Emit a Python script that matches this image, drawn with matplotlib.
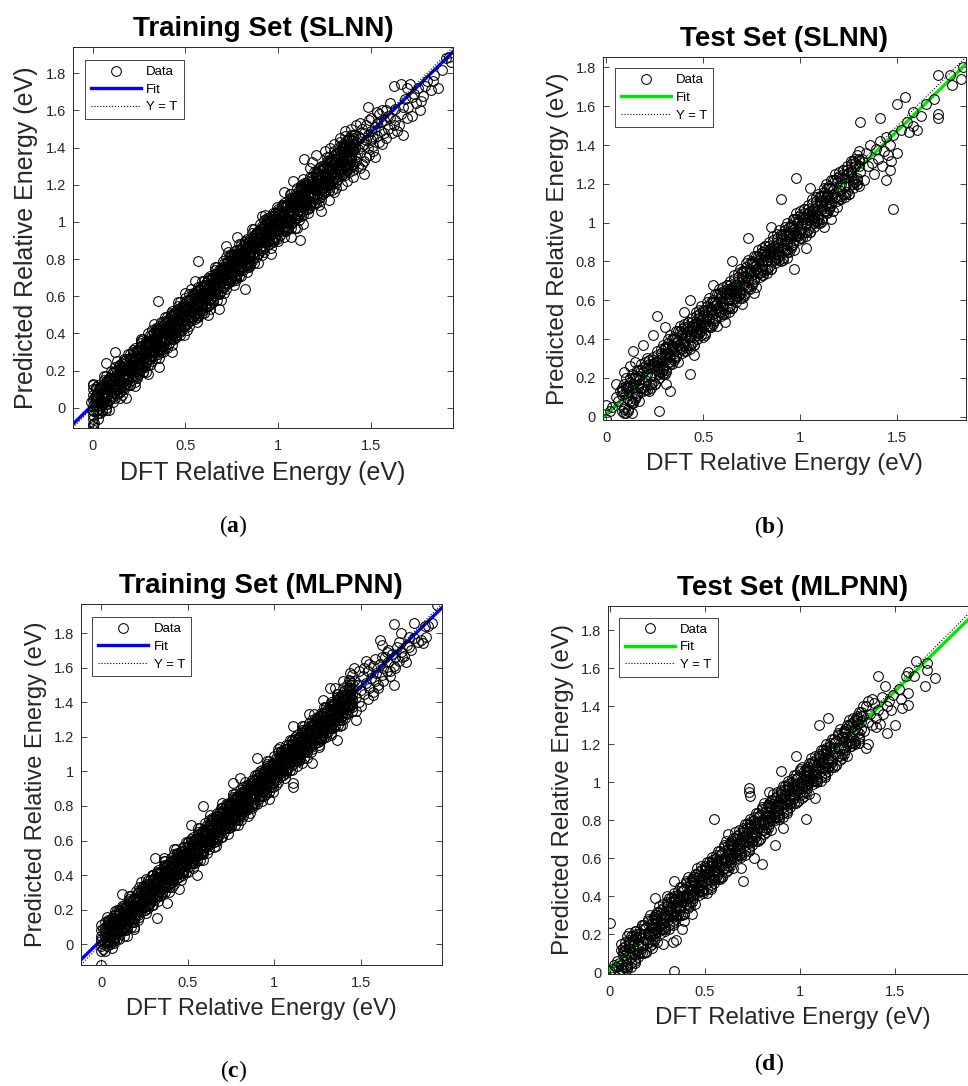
import matplotlib
matplotlib.use('Agg')
import matplotlib.pyplot as plt
import numpy as np

plt.rcParams['font.family'] = ['Liberation Sans', 'DejaVu Sans']
plt.rcParams['mathtext.fontset'] = 'custom'
plt.rcParams['mathtext.rm'] = 'Liberation Serif'
plt.rcParams['mathtext.bf'] = 'Liberation Serif:bold'

# ---------------- data ----------------
x_ticks = [0, 0.5, 1, 1.5]
x_tick_labels = ['0', '0.5', '1', '1.5']
y_ticks = [0, 0.2, 0.4, 0.6, 0.8, 1.0, 1.2, 1.4, 1.6, 1.8]
y_tick_labels = ['0', '0.2', '0.4', '0.6', '0.8', '1', '1.2', '1.4', '1.6', '1.8']

# (a) Training Set (SLNN): DFT value on x, several predicted values per x
a_x = [0.02, 0.03, 0.04, 0.05, 0.06, 0.07, 0.08, 0.09, 0.10, 0.11,
       0.12, 0.13, 0.14, 0.15, 0.16, 0.17, 0.18, 0.19, 0.20, 0.21,
       0.22, 0.23, 0.24, 0.25, 0.26, 0.27, 0.28, 0.29, 0.30, 0.31,
       0.32, 0.33, 0.34, 0.35, 0.36, 0.37, 0.38, 0.39, 0.40, 0.41,
       0.42, 0.43, 0.44, 0.45, 0.46, 0.47, 0.48, 0.49, 0.50, 0.51,
       0.52, 0.53, 0.54, 0.55, 0.56, 0.57, 0.58, 0.59, 0.60, 0.61,
       0.62, 0.63, 0.64, 0.65, 0.66, 0.67, 0.68, 0.69, 0.70, 0.71,
       0.72, 0.73, 0.74, 0.75, 0.76, 0.77, 0.78, 0.79, 0.80, 0.81,
       0.82, 0.83, 0.84, 0.85, 0.86, 0.87, 0.88, 0.89, 0.90, 0.91,
       0.92, 0.93, 0.94, 0.95, 0.96, 0.97, 0.98, 0.99, 1.00, 1.01,
       1.02, 1.03, 1.04, 1.05, 1.06, 1.07, 1.08, 1.09, 1.10, 1.11,
       1.12, 1.13, 1.14, 1.15, 1.16, 1.17, 1.18, 1.19, 1.20, 1.21,
       1.22, 1.23, 1.24, 1.25, 1.26, 1.27, 1.28, 1.29, 1.30, 1.31,
       1.32, 1.33, 1.34, 1.35, 1.36, 1.37, 1.38, 1.39, 1.40]
a_y1 = [0.07, 0.01, 0.11, 0.02, 0.08, 0.00, 0.14, 0.10, 0.06, 0.19,
        0.11, 0.17, 0.08, 0.20, 0.14, 0.25, 0.13, 0.22, 0.12, 0.24,
        0.19, 0.27, 0.16, 0.30, 0.21, 0.19, 0.33, 0.25, 0.23, 0.36,
        0.28, 0.40, 0.27, 0.31, 0.42, 0.33, 0.30, 0.46, 0.37, 0.35,
        0.49, 0.39, 0.45, 0.38, 0.52, 0.41, 0.47, 0.55, 0.44, 0.50,
        0.58, 0.47, 0.54, 0.61, 0.49, 0.56, 0.64, 0.52, 0.58, 0.66,
        0.55, 0.61, 0.69, 0.58, 0.64, 0.72, 0.61, 0.67, 0.76, 0.65,
        0.70, 0.79, 0.68, 0.74, 0.82, 0.71, 0.77, 0.85, 0.74, 0.80,
        0.88, 0.77, 0.84, 0.91, 0.79, 0.86, 0.94, 0.83, 0.89, 0.97,
        0.86, 0.92, 1.00, 0.88, 0.95, 1.03, 0.91, 0.98, 1.06, 0.93,
        1.00, 1.09, 0.96, 1.03, 1.12, 0.99, 1.06, 1.15, 1.02, 1.08,
        1.18, 1.04, 1.11, 1.21, 1.07, 1.14, 1.24, 1.10, 1.17, 1.27,
        1.13, 1.20, 1.30, 1.16, 1.23, 1.33, 1.19, 1.26, 1.36, 1.22,
        1.29, 1.38, 1.25, 1.32, 1.41, 1.28, 1.35, 1.44, 1.31]
a_y2 = [0.04, 0.06, 0.03, 0.08, 0.05, 0.10, 0.07, 0.12, 0.09, 0.13,
        0.15, 0.12, 0.17, 0.14, 0.19, 0.16, 0.21, 0.18, 0.23, 0.20,
        0.25, 0.22, 0.27, 0.24, 0.29, 0.26, 0.30, 0.28, 0.33, 0.30,
        0.35, 0.32, 0.37, 0.34, 0.39, 0.36, 0.41, 0.38, 0.43, 0.40,
        0.44, 0.45, 0.41, 0.47, 0.48, 0.45, 0.50, 0.47, 0.53, 0.52,
        0.54, 0.51, 0.56, 0.57, 0.53, 0.58, 0.60, 0.56, 0.62, 0.59,
        0.63, 0.65, 0.61, 0.67, 0.68, 0.64, 0.70, 0.71, 0.66, 0.72,
        0.74, 0.71, 0.76, 0.77, 0.73, 0.79, 0.80, 0.76, 0.82, 0.79,
        0.83, 0.85, 0.81, 0.87, 0.88, 0.84, 0.90, 0.91, 0.86, 0.92,
        0.94, 0.91, 0.96, 0.97, 0.93, 0.99, 1.00, 0.95, 1.01, 0.99,
        1.01, 1.04, 1.00, 1.06, 1.05, 1.03, 1.09, 1.07, 1.05, 1.11,
        1.12, 1.10, 1.15, 1.16, 1.12, 1.18, 1.19, 1.14, 1.20, 1.18,
        1.20, 1.23, 1.19, 1.25, 1.24, 1.22, 1.28, 1.26, 1.24, 1.30,
        1.31, 1.29, 1.34, 1.35, 1.31, 1.37, 1.38, 1.33, 1.39]
a_y3 = [0.06, -0.01, 0.11, 0.04, 0.11, 0.02, 0.10, 0.15, 0.07, 0.14,
        0.10, 0.20, 0.14, 0.20, 0.12, 0.20, 0.13, 0.23, 0.21, 0.20,
        0.26, 0.19, 0.31, 0.24, 0.31, 0.22, 0.30, 0.35, 0.27, 0.34,
        0.30, 0.40, 0.34, 0.40, 0.32, 0.40, 0.33, 0.43, 0.41, 0.40,
        0.46, 0.39, 0.51, 0.44, 0.51, 0.42, 0.50, 0.55, 0.46, 0.53,
        0.49, 0.59, 0.53, 0.59, 0.51, 0.59, 0.52, 0.62, 0.60, 0.59,
        0.65, 0.58, 0.70, 0.63, 0.70, 0.61, 0.69, 0.74, 0.66, 0.73,
        0.69, 0.79, 0.73, 0.79, 0.71, 0.79, 0.72, 0.82, 0.80, 0.79,
        0.85, 0.78, 0.90, 0.83, 0.90, 0.81, 0.89, 0.94, 0.86, 0.93,
        0.89, 0.99, 0.93, 0.99, 0.91, 0.99, 0.92, 1.02, 0.99, 0.98,
        1.04, 0.97, 1.09, 1.02, 1.09, 1.00, 1.08, 1.13, 1.05, 1.12,
        1.08, 1.18, 1.12, 1.18, 1.10, 1.18, 1.11, 1.21, 1.19, 1.18,
        1.24, 1.17, 1.29, 1.22, 1.29, 1.20, 1.28, 1.33, 1.25, 1.32,
        1.28, 1.38, 1.32, 1.38, 1.30, 1.38, 1.31, 1.41, 1.39]
a_y4 = [0.01, 0.08, 0.00, 0.07, 0.13, 0.05, 0.11, 0.04, 0.16, 0.11,
        0.16, 0.10, 0.22, 0.14, 0.17, 0.11, 0.23, 0.17, 0.26, 0.23,
        0.21, 0.28, 0.20, 0.27, 0.33, 0.25, 0.31, 0.24, 0.36, 0.31,
        0.36, 0.30, 0.42, 0.34, 0.37, 0.31, 0.43, 0.37, 0.46, 0.43,
        0.41, 0.48, 0.40, 0.47, 0.53, 0.45, 0.51, 0.44, 0.55, 0.50,
        0.55, 0.49, 0.61, 0.53, 0.56, 0.50, 0.62, 0.56, 0.65, 0.62,
        0.60, 0.67, 0.59, 0.66, 0.72, 0.64, 0.70, 0.63, 0.75, 0.70,
        0.75, 0.69, 0.81, 0.73, 0.76, 0.70, 0.82, 0.76, 0.85, 0.82,
        0.80, 0.87, 0.79, 0.86, 0.92, 0.84, 0.90, 0.83, 0.95, 0.90,
        0.95, 0.89, 1.01, 0.93, 0.96, 0.90, 1.02, 0.96, 1.04, 1.01,
        0.99, 1.06, 0.98, 1.05, 1.11, 1.03, 1.09, 1.02, 1.14, 1.09,
        1.14, 1.08, 1.20, 1.12, 1.15, 1.09, 1.21, 1.15, 1.24, 1.21,
        1.19, 1.26, 1.18, 1.25, 1.31, 1.23, 1.29, 1.22, 1.34, 1.29,
        1.34, 1.28, 1.40, 1.33, 1.35, 1.29, 1.41, 1.35, 1.44]
a_y5 = [0.03, 0.06, 0.04, 0.03, 0.08, 0.11, 0.07, 0.10, 0.13, 0.08,
        0.17, 0.13, 0.16, 0.14, 0.20, 0.18, 0.16, 0.22, 0.20, 0.23,
        0.23, 0.26, 0.24, 0.23, 0.28, 0.31, 0.27, 0.30, 0.33, 0.28,
        0.37, 0.33, 0.36, 0.34, 0.40, 0.38, 0.36, 0.42, 0.40, 0.43,
        0.43, 0.46, 0.44, 0.43, 0.48, 0.51, 0.47, 0.50, 0.52, 0.47,
        0.56, 0.52, 0.55, 0.53, 0.59, 0.57, 0.55, 0.61, 0.59, 0.62,
        0.62, 0.65, 0.63, 0.62, 0.67, 0.70, 0.66, 0.69, 0.72, 0.67,
        0.76, 0.72, 0.75, 0.73, 0.79, 0.77, 0.75, 0.81, 0.79, 0.82,
        0.82, 0.85, 0.83, 0.82, 0.87, 0.90, 0.86, 0.89, 0.92, 0.87,
        0.96, 0.92, 0.95, 0.93, 0.99, 0.97, 0.95, 1.01, 0.98, 1.01,
        1.01, 1.04, 1.02, 1.01, 1.06, 1.09, 1.05, 1.08, 1.11, 1.06,
        1.15, 1.11, 1.14, 1.12, 1.18, 1.16, 1.14, 1.20, 1.18, 1.21,
        1.21, 1.24, 1.22, 1.21, 1.26, 1.29, 1.25, 1.28, 1.31, 1.26,
        1.35, 1.31, 1.34, 1.32, 1.38, 1.36, 1.34, 1.40, 1.38]
a_y6 = [0.10, -0.03, 0.10, -0.02, 0.15, 0.03, 0.15, 0.04, 0.15, 0.03,
        0.22, 0.10, 0.21, 0.09, 0.24, 0.12, 0.24, 0.12, 0.29, 0.17,
        0.30, 0.17, 0.30, 0.18, 0.35, 0.23, 0.35, 0.24, 0.35, 0.23,
        0.42, 0.30, 0.41, 0.29, 0.44, 0.32, 0.44, 0.32, 0.49, 0.37,
        0.50, 0.37, 0.50, 0.38, 0.55, 0.43, 0.55, 0.44, 0.54, 0.42,
        0.61, 0.49, 0.60, 0.48, 0.63, 0.51, 0.63, 0.51, 0.68, 0.56,
        0.69, 0.56, 0.69, 0.57, 0.74, 0.62, 0.74, 0.63, 0.74, 0.62,
        0.81, 0.69, 0.80, 0.68, 0.83, 0.71, 0.83, 0.71, 0.88, 0.76,
        0.89, 0.76, 0.89, 0.77, 0.94, 0.82, 0.94, 0.83, 0.94, 0.82,
        1.01, 0.89, 1.00, 0.88, 1.03, 0.91, 1.03, 0.91, 1.07, 0.95,
        1.08, 0.95, 1.08, 0.96, 1.13, 1.01, 1.13, 1.02, 1.13, 1.01,
        1.20, 1.08, 1.19, 1.07, 1.22, 1.10, 1.22, 1.10, 1.27, 1.15,
        1.28, 1.15, 1.28, 1.16, 1.33, 1.21, 1.33, 1.22, 1.33, 1.21,
        1.40, 1.27, 1.39, 1.26, 1.42, 1.30, 1.42, 1.30, 1.47]
a_y7 = [0.11, -0.06, 0.11, -0.01, 0.17, -0.01, 0.14, -0.01, 0.20, 0.06,
        0.05, 0.25, 0.10, 0.23, 0.07, 0.26, 0.13, 0.29, 0.12, 0.28,
        0.31, 0.14, 0.31, 0.19, 0.37, 0.19, 0.34, 0.19, 0.40, 0.26,
        0.25, 0.45, 0.30, 0.43, 0.27, 0.46, 0.33, 0.49, 0.32, 0.48,
        0.51, 0.34, 0.51, 0.39, 0.57, 0.39, 0.54, 0.39, 0.59, 0.45,
        0.44, 0.64, 0.49, 0.62, 0.46, 0.65, 0.52, 0.68, 0.51, 0.67,
        0.70, 0.53, 0.70, 0.58, 0.76, 0.58, 0.73, 0.58, 0.79, 0.65,
        0.64, 0.84, 0.69, 0.82, 0.66, 0.85, 0.72, 0.88, 0.71, 0.87,
        0.90, 0.73, 0.90, 0.78, 0.96, 0.78, 0.93, 0.78, 0.99, 0.85,
        0.84, 1.04, 0.89, 1.02, 0.86, 1.05, 0.92, 1.08, 0.90, 1.06,
        1.09, 0.92, 1.09, 0.97, 1.15, 0.97, 1.12, 0.97, 1.18, 1.04,
        1.03, 1.23, 1.08, 1.21, 1.05, 1.24, 1.11, 1.27, 1.10, 1.26,
        1.29, 1.12, 1.29, 1.17, 1.35, 1.17, 1.32, 1.17, 1.38, 1.24,
        1.23, 1.43, 1.28, 1.41, 1.25, 1.44, 1.31, 1.47, 1.30]
a_y8 = [-0.02, 0.12, -0.03, 0.11, 0.03, 0.17, 0.02, 0.16, 0.06, 0.19,
        0.19, 0.08, 0.23, 0.11, 0.22, 0.10, 0.26, 0.16, 0.27, 0.15,
        0.18, 0.32, 0.17, 0.31, 0.23, 0.37, 0.22, 0.36, 0.26, 0.39,
        0.39, 0.28, 0.43, 0.31, 0.42, 0.30, 0.46, 0.36, 0.47, 0.35,
        0.38, 0.52, 0.37, 0.51, 0.43, 0.57, 0.42, 0.56, 0.45, 0.58,
        0.58, 0.47, 0.62, 0.50, 0.61, 0.49, 0.65, 0.55, 0.66, 0.54,
        0.57, 0.71, 0.56, 0.70, 0.62, 0.76, 0.61, 0.75, 0.65, 0.78,
        0.78, 0.67, 0.82, 0.70, 0.81, 0.69, 0.85, 0.75, 0.86, 0.74,
        0.77, 0.91, 0.76, 0.90, 0.82, 0.96, 0.81, 0.95, 0.85, 0.98,
        0.98, 0.87, 1.02, 0.90, 1.01, 0.89, 1.05, 0.95, 1.05, 0.93,
        0.96, 1.10, 0.95, 1.09, 1.01, 1.15, 1.00, 1.14, 1.04, 1.17,
        1.17, 1.06, 1.21, 1.09, 1.20, 1.08, 1.24, 1.14, 1.25, 1.13,
        1.16, 1.30, 1.15, 1.29, 1.21, 1.35, 1.20, 1.34, 1.24, 1.37,
        1.37, 1.26, 1.41, 1.29, 1.40, 1.28, 1.44, 1.34, 1.45]
a_extra = [(0.00, 0.13), (0.00, 0.12), (0.00, 0.10), (0.00, 0.07), (0.00, 0.04),
           (0.00, 0.01), (0.00, -0.02), (0.00, -0.04), (0.00, -0.06), (0.01, -0.08),
           (0.00, -0.10), (0.01, -0.12), (-0.01, 0.03), (0.00, -0.01), (0.01, 0.05),
           (0.00, -0.09),
           (1.41, 1.40), (1.42, 1.33), (1.43, 1.46), (1.44, 1.37), (1.45, 1.50),
           (1.46, 1.42), (1.47, 1.35), (1.48, 1.47), (1.49, 1.55), (1.50, 1.44),
           (1.51, 1.38), (1.52, 1.51), (1.53, 1.46), (1.54, 1.58), (1.55, 1.49),
           (1.56, 1.42), (1.57, 1.55), (1.58, 1.60), (1.59, 1.50), (1.60, 1.56),
           (1.62, 1.52), (1.63, 1.61), (1.64, 1.49), (1.66, 1.58), (1.67, 1.47),
           (1.68, 1.66), (1.70, 1.62), (1.71, 1.74), (1.72, 1.57), (1.73, 1.69),
           (1.74, 1.64), (1.75, 1.72), (1.76, 1.60), (1.78, 1.68), (1.80, 1.76),
           (1.82, 1.71), (1.84, 1.79), (1.86, 1.72), (1.88, 1.82), (1.90, 1.88),
           (1.92, 1.89), (1.93, 1.86), (1.62, 1.73), (1.66, 1.74), (1.69, 1.72),
           (1.40, 1.28), (1.44, 1.29), (1.48, 1.62), (1.38, 1.27), (1.35, 1.42),
           (1.28, 1.40), (1.30, 1.16), (1.17, 1.29), (1.15, 1.20), (1.46, 1.26),
           (1.52, 1.35), (1.36, 1.49), (1.42, 1.52), (1.38, 1.45), (1.45, 1.31),
           (1.41, 1.36), (1.42, 1.43), (1.43, 1.39), (1.44, 1.45), (1.45, 1.41),
           (1.46, 1.48), (1.47, 1.44), (1.48, 1.40), (1.50, 1.49), (1.51, 1.45),
           (1.53, 1.53), (1.55, 1.54), (1.57, 1.48), (1.59, 1.57),
           (1.30, 1.42), (1.31, 1.18), (1.33, 1.45), (1.34, 1.20), (1.36, 1.46),
           (1.37, 1.22), (1.39, 1.50), (1.40, 1.24), (1.41, 1.47), (1.43, 1.30),
           (1.44, 1.53), (1.46, 1.33), (1.47, 1.52), (1.49, 1.36), (1.50, 1.56),
           (1.51, 1.41), (1.53, 1.59), (1.54, 1.43), (1.56, 1.60), (1.58, 1.45),
           (1.60, 1.64), (1.61, 1.48), (1.63, 1.55), (1.65, 1.52), (1.67, 1.62),
           (1.69, 1.56), (1.72, 1.67), (1.77, 1.65), (1.79, 1.73), (1.83, 1.76),
           (1.25, 1.38), (1.22, 1.09), (1.27, 1.12), (1.18, 1.32), (1.13, 0.99),
           (1.08, 1.22),
           (0.35, 0.575), (0.57, 0.79), (0.82, 0.64), (1.115, 0.905), (1.14, 1.34),
           (0.12, 0.30), (0.07, 0.24), (0.18, 0.055), (0.23, 0.115), (0.43, 0.30),
           (0.36, 0.22), (0.68, 0.53), (0.72, 0.87), (1.23, 1.06), (1.03, 1.16),
           (0.26, 0.36), (0.50, 0.62), (0.62, 0.50), (0.91, 1.03), (0.96, 0.83),
           (1.07, 0.92), (0.15, 0.05), (0.30, 0.18), (0.55, 0.68), (0.78, 0.92),
           (1.20, 1.36), (1.10, 0.97)]
a_fit = (0.980, 0.015)

# (b) Test Set (SLNN)
b_x = [0.08, 0.09, 0.10, 0.11, 0.12, 0.13, 0.14, 0.15, 0.16, 0.17,
       0.18, 0.19, 0.20, 0.21, 0.22, 0.23, 0.24, 0.25, 0.26, 0.27,
       0.28, 0.29, 0.30, 0.31, 0.32, 0.33, 0.34, 0.35, 0.36, 0.37,
       0.38, 0.39, 0.40, 0.41, 0.42, 0.43, 0.44, 0.45, 0.46, 0.47,
       0.48, 0.49, 0.50, 0.51, 0.52, 0.53, 0.54, 0.55, 0.56, 0.57,
       0.58, 0.59, 0.60, 0.61, 0.62, 0.63, 0.64, 0.65, 0.66, 0.67,
       0.68, 0.69, 0.70, 0.71, 0.72, 0.73, 0.74, 0.75, 0.76, 0.77,
       0.78, 0.79, 0.80, 0.81, 0.82, 0.83, 0.84, 0.85, 0.86, 0.87,
       0.88, 0.89, 0.90, 0.91, 0.92, 0.93, 0.94, 0.95, 0.96, 0.97,
       0.98, 0.99, 1.00, 1.01, 1.02, 1.03, 1.04, 1.05, 1.06, 1.07,
       1.08, 1.09, 1.10, 1.11, 1.12, 1.13, 1.14, 1.15, 1.16, 1.17,
       1.18, 1.19, 1.20, 1.21, 1.22, 1.23, 1.24, 1.25, 1.26, 1.27,
       1.28, 1.29, 1.30]
b_y1 = [0.13, 0.05, 0.12, 0.04, 0.18, 0.12, 0.17, 0.10, 0.24, 0.17,
        0.15, 0.23, 0.14, 0.22, 0.29, 0.21, 0.27, 0.17, 0.28, 0.23,
        0.33, 0.25, 0.32, 0.24, 0.38, 0.32, 0.37, 0.30, 0.44, 0.37,
        0.35, 0.43, 0.34, 0.42, 0.49, 0.41, 0.47, 0.37, 0.48, 0.43,
        0.53, 0.45, 0.51, 0.43, 0.57, 0.51, 0.56, 0.49, 0.63, 0.56,
        0.54, 0.62, 0.53, 0.61, 0.68, 0.60, 0.66, 0.56, 0.67, 0.62,
        0.72, 0.64, 0.71, 0.63, 0.77, 0.71, 0.76, 0.69, 0.83, 0.76,
        0.74, 0.82, 0.73, 0.81, 0.88, 0.80, 0.86, 0.76, 0.87, 0.82,
        0.92, 0.84, 0.90, 0.82, 0.96, 0.90, 0.95, 0.88, 1.02, 0.95,
        0.93, 1.01, 0.92, 1.00, 1.07, 0.99, 1.05, 0.95, 1.06, 1.01,
        1.11, 1.03, 1.10, 1.02, 1.16, 1.10, 1.15, 1.08, 1.22, 1.15,
        1.13, 1.21, 1.12, 1.20, 1.27, 1.19, 1.25, 1.15, 1.26, 1.21,
        1.31, 1.23, 1.29]
b_y2 = [0.11, 0.04, 0.16, 0.09, 0.16, 0.07, 0.15, 0.20, 0.12, 0.19,
        0.15, 0.25, 0.19, 0.25, 0.17, 0.25, 0.18, 0.28, 0.26, 0.25,
        0.31, 0.24, 0.36, 0.29, 0.36, 0.27, 0.35, 0.40, 0.32, 0.39,
        0.35, 0.45, 0.39, 0.45, 0.37, 0.45, 0.38, 0.48, 0.46, 0.45,
        0.51, 0.44, 0.55, 0.48, 0.55, 0.46, 0.54, 0.59, 0.51, 0.58,
        0.54, 0.64, 0.58, 0.64, 0.56, 0.64, 0.57, 0.67, 0.65, 0.64,
        0.70, 0.63, 0.75, 0.68, 0.75, 0.66, 0.74, 0.79, 0.71, 0.78,
        0.74, 0.84, 0.78, 0.84, 0.76, 0.84, 0.77, 0.87, 0.85, 0.84,
        0.90, 0.83, 0.94, 0.87, 0.94, 0.85, 0.93, 0.98, 0.90, 0.97,
        0.93, 1.03, 0.97, 1.03, 0.95, 1.03, 0.96, 1.06, 1.04, 1.03,
        1.09, 1.02, 1.14, 1.07, 1.14, 1.05, 1.13, 1.18, 1.10, 1.17,
        1.13, 1.23, 1.17, 1.23, 1.15, 1.23, 1.16, 1.26, 1.24, 1.23,
        1.29, 1.22, 1.33]
b_y3 = [0.15, 0.02, 0.15, 0.03, 0.20, 0.08, 0.20, 0.09, 0.20, 0.08,
        0.27, 0.15, 0.26, 0.14, 0.29, 0.17, 0.29, 0.17, 0.34, 0.22,
        0.35, 0.22, 0.35, 0.23, 0.40, 0.28, 0.40, 0.29, 0.40, 0.28,
        0.47, 0.35, 0.46, 0.34, 0.49, 0.37, 0.49, 0.37, 0.54, 0.42,
        0.55, 0.42, 0.54, 0.42, 0.59, 0.47, 0.59, 0.48, 0.59, 0.47,
        0.66, 0.54, 0.65, 0.53, 0.68, 0.56, 0.68, 0.56, 0.73, 0.61,
        0.74, 0.61, 0.74, 0.62, 0.79, 0.67, 0.79, 0.68, 0.79, 0.67,
        0.86, 0.74, 0.85, 0.73, 0.88, 0.76, 0.88, 0.76, 0.93, 0.81,
        0.94, 0.81, 0.93, 0.81, 0.98, 0.86, 0.98, 0.87, 0.98, 0.86,
        1.05, 0.93, 1.04, 0.92, 1.07, 0.95, 1.07, 0.95, 1.12, 1.00,
        1.13, 1.00, 1.13, 1.01, 1.18, 1.06, 1.18, 1.07, 1.18, 1.06,
        1.25, 1.13, 1.24, 1.12, 1.27, 1.15, 1.27, 1.15, 1.32, 1.20,
        1.33, 1.20, 1.32]
b_y4 = [0.03, 0.17, 0.02, 0.16, 0.08, 0.22, 0.07, 0.21, 0.11, 0.24,
        0.24, 0.13, 0.28, 0.16, 0.27, 0.15, 0.31, 0.21, 0.32, 0.20,
        0.23, 0.37, 0.22, 0.36, 0.28, 0.42, 0.27, 0.41, 0.31, 0.44,
        0.44, 0.33, 0.48, 0.36, 0.47, 0.35, 0.51, 0.41, 0.52, 0.40,
        0.43, 0.57, 0.41, 0.55, 0.47, 0.61, 0.46, 0.60, 0.50, 0.63,
        0.63, 0.52, 0.67, 0.55, 0.66, 0.54, 0.70, 0.60, 0.71, 0.59,
        0.62, 0.76, 0.61, 0.75, 0.67, 0.81, 0.66, 0.80, 0.70, 0.83,
        0.83, 0.72, 0.87, 0.75, 0.86, 0.74, 0.90, 0.80, 0.91, 0.79,
        0.82, 0.96, 0.80, 0.94, 0.86, 1.00, 0.85, 0.99, 0.89, 1.02,
        1.02, 0.91, 1.06, 0.94, 1.05, 0.93, 1.09, 0.99, 1.10, 0.98,
        1.01, 1.15, 1.00, 1.14, 1.06, 1.20, 1.05, 1.19, 1.09, 1.22,
        1.22, 1.11, 1.26, 1.14, 1.25, 1.13, 1.29, 1.19, 1.30, 1.18,
        1.21, 1.35, 1.19]
b_tight_x = [0.25, 0.26, 0.27, 0.28, 0.29, 0.30, 0.31, 0.32, 0.33, 0.34,
             0.35, 0.36, 0.37, 0.38, 0.39, 0.40, 0.41, 0.42, 0.43, 0.44,
             0.45, 0.46, 0.47, 0.48, 0.49, 0.50, 0.51, 0.52, 0.53, 0.54,
             0.55, 0.56, 0.57, 0.58, 0.59, 0.60, 0.61, 0.62, 0.63, 0.64,
             0.65, 0.66, 0.67, 0.68, 0.69, 0.70, 0.71, 0.72, 0.73, 0.74,
             0.75, 0.76, 0.77, 0.78, 0.79, 0.80, 0.81, 0.82, 0.83, 0.84,
             0.85, 0.86, 0.87, 0.88, 0.89, 0.90, 0.91, 0.92, 0.93, 0.94,
             0.95, 0.96, 0.97, 0.98, 0.99, 1.00, 1.01, 1.02, 1.03, 1.04,
             1.05, 1.06, 1.07, 1.08, 1.09, 1.10, 1.11, 1.12, 1.13, 1.14,
             1.15]
b_tight_y = [0.26, 0.24, 0.29, 0.28, 0.26, 0.33, 0.30, 0.33, 0.31, 0.36,
             0.34, 0.38, 0.37, 0.36, 0.42, 0.37, 0.42, 0.44, 0.42, 0.44,
             0.46, 0.44, 0.49, 0.48, 0.46, 0.52, 0.49, 0.52, 0.50, 0.55,
             0.53, 0.57, 0.56, 0.55, 0.61, 0.56, 0.61, 0.63, 0.61, 0.63,
             0.65, 0.63, 0.68, 0.67, 0.65, 0.72, 0.69, 0.72, 0.70, 0.75,
             0.73, 0.77, 0.76, 0.75, 0.81, 0.76, 0.81, 0.83, 0.81, 0.83,
             0.85, 0.83, 0.88, 0.87, 0.85, 0.91, 0.88, 0.91, 0.89, 0.94,
             0.92, 0.96, 0.95, 0.94, 1.00, 0.95, 1.00, 1.02, 1.00, 1.02,
             1.04, 1.02, 1.07, 1.06, 1.04, 1.11, 1.08, 1.11, 1.09, 1.14,
             1.12]
b_extra = [(0.00, -0.01), (0.00, 0.06), (0.02, 0.03), (0.05, 0.17), (0.09, 0.23),
           (0.13, 0.02), (0.13, 0.07), (0.14, 0.34), (0.19, 0.37), (0.24, 0.42),
           (0.26, 0.52), (0.27, 0.03), (0.30, 0.46), (0.31, 0.17), (0.33, 0.13),
           (0.43, 0.22), (0.43, 0.60), (0.45, 0.32), (0.40, 0.54), (0.05, 0.10),
           (0.07, 0.13), (0.10, 0.20), (0.11, 0.15), (0.06, 0.08), (0.03, 0.05),
           (0.15, 0.28), (0.17, 0.21), (0.21, 0.30), (0.22, 0.13), (0.12, 0.26),
           (0.73, 0.92), (0.65, 0.80), (0.61, 0.49), (0.76, 0.64), (0.90, 1.12),
           (0.97, 0.76), (1.03, 0.87), (0.98, 1.23), (1.16, 1.02), (1.19, 1.08),
           (0.55, 0.68), (0.85, 0.98), (0.70, 0.58), (1.05, 1.18), (1.12, 0.98),
           (0.93, 0.82),
           (1.31, 1.52), (1.41, 1.54), (1.48, 1.07), (1.50, 1.61), (1.54, 1.65),
           (1.50, 1.36), (1.46, 1.27), (1.44, 1.22), (1.71, 1.76), (1.71, 1.56),
           (1.71, 1.54), (1.77, 1.76), (1.83, 1.74), (1.84, 1.80), (1.78, 1.71),
           (1.65, 1.61), (1.58, 1.57), (1.58, 1.50), (1.60, 1.48), (1.69, 1.64),
           (1.31, 1.26), (1.32, 1.33), (1.33, 1.22), (1.34, 1.36), (1.35, 1.29),
           (1.36, 1.40), (1.37, 1.31), (1.38, 1.25), (1.39, 1.38), (1.40, 1.33),
           (1.41, 1.42), (1.42, 1.29), (1.43, 1.37), (1.44, 1.44), (1.45, 1.35),
           (1.46, 1.40), (1.47, 1.32), (1.48, 1.45), (1.52, 1.48), (1.55, 1.52),
           (1.56, 1.47), (1.62, 1.55), (1.30, 1.37), (1.29, 1.20), (1.27, 1.32)]
b_fit = (0.974, 0.012)

# (c) Training Set (MLPNN)
c_x = [0.02, 0.03, 0.04, 0.05, 0.06, 0.07, 0.08, 0.09, 0.10, 0.11,
       0.12, 0.13, 0.14, 0.15, 0.16, 0.17, 0.18, 0.19, 0.20, 0.21,
       0.22, 0.23, 0.24, 0.25, 0.26, 0.27, 0.28, 0.29, 0.30, 0.31,
       0.32, 0.33, 0.34, 0.35, 0.36, 0.37, 0.38, 0.39, 0.40, 0.41,
       0.42, 0.43, 0.44, 0.45, 0.46, 0.47, 0.48, 0.49, 0.50, 0.51,
       0.52, 0.53, 0.54, 0.55, 0.56, 0.57, 0.58, 0.59, 0.60, 0.61,
       0.62, 0.63, 0.64, 0.65, 0.66, 0.67, 0.68, 0.69, 0.70, 0.71,
       0.72, 0.73, 0.74, 0.75, 0.76, 0.77, 0.78, 0.79, 0.80, 0.81,
       0.82, 0.83, 0.84, 0.85, 0.86, 0.87, 0.88, 0.89, 0.90, 0.91,
       0.92, 0.93, 0.94, 0.95, 0.96, 0.97, 0.98, 0.99, 1.00, 1.01,
       1.02, 1.03, 1.04, 1.05, 1.06, 1.07, 1.08, 1.09, 1.10, 1.11,
       1.12, 1.13, 1.14, 1.15, 1.16, 1.17, 1.18, 1.19, 1.20, 1.21,
       1.22, 1.23, 1.24, 1.25, 1.26, 1.27, 1.28, 1.29, 1.30, 1.31,
       1.32, 1.33, 1.34, 1.35, 1.36, 1.37, 1.38, 1.39, 1.40, 1.41,
       1.42, 1.43, 1.44, 1.45]
c_y1 = [0.01, 0.10, 0.07, 0.00, 0.11, 0.15, 0.06, 0.11, 0.20, 0.11,
        0.08, 0.19, 0.18, 0.12, 0.25, 0.18, 0.23, 0.13, 0.27, 0.20,
        0.21, 0.30, 0.27, 0.20, 0.31, 0.35, 0.26, 0.31, 0.40, 0.31,
        0.28, 0.39, 0.38, 0.32, 0.45, 0.38, 0.43, 0.33, 0.46, 0.39,
        0.40, 0.49, 0.46, 0.39, 0.50, 0.54, 0.45, 0.50, 0.59, 0.50,
        0.47, 0.58, 0.57, 0.51, 0.64, 0.57, 0.62, 0.52, 0.66, 0.59,
        0.60, 0.69, 0.66, 0.59, 0.70, 0.74, 0.65, 0.70, 0.79, 0.70,
        0.67, 0.78, 0.77, 0.71, 0.84, 0.77, 0.82, 0.72, 0.85, 0.78,
        0.79, 0.88, 0.85, 0.78, 0.89, 0.93, 0.84, 0.89, 0.98, 0.89,
        0.86, 0.97, 0.96, 0.90, 1.03, 0.96, 1.01, 0.91, 1.05, 0.98,
        0.99, 1.08, 1.05, 0.98, 1.09, 1.13, 1.04, 1.09, 1.18, 1.09,
        1.06, 1.17, 1.16, 1.10, 1.23, 1.16, 1.21, 1.11, 1.24, 1.17,
        1.18, 1.27, 1.24, 1.17, 1.28, 1.32, 1.23, 1.28, 1.37, 1.28,
        1.25, 1.36, 1.35, 1.29, 1.42, 1.35, 1.40, 1.30, 1.44, 1.37,
        1.38, 1.47, 1.44, 1.37]
c_y2 = [0.05, 0.03, 0.08, 0.07, 0.05, 0.12, 0.09, 0.12, 0.10, 0.15,
        0.15, 0.13, 0.18, 0.17, 0.15, 0.22, 0.19, 0.22, 0.20, 0.25,
        0.25, 0.23, 0.28, 0.27, 0.25, 0.32, 0.29, 0.32, 0.30, 0.35,
        0.35, 0.33, 0.38, 0.37, 0.35, 0.42, 0.39, 0.42, 0.39, 0.44,
        0.44, 0.42, 0.47, 0.46, 0.44, 0.51, 0.48, 0.51, 0.49, 0.54,
        0.53, 0.51, 0.58, 0.55, 0.58, 0.56, 0.61, 0.61, 0.59, 0.64,
        0.66, 0.63, 0.66, 0.64, 0.69, 0.69, 0.67, 0.72, 0.71, 0.69,
        0.74, 0.72, 0.77, 0.76, 0.74, 0.81, 0.78, 0.81, 0.78, 0.83,
        0.82, 0.80, 0.87, 0.84, 0.87, 0.85, 0.90, 0.90, 0.88, 0.93,
        0.95, 0.92, 0.95, 0.93, 0.98, 0.98, 0.96, 1.01, 1.00, 0.98,
        1.03, 1.01, 1.06, 1.05, 1.03, 1.10, 1.07, 1.10, 1.08, 1.13,
        1.12, 1.10, 1.17, 1.14, 1.17, 1.15, 1.20, 1.20, 1.17, 1.22,
        1.24, 1.21, 1.24, 1.22, 1.27, 1.27, 1.25, 1.30, 1.29, 1.27,
        1.32, 1.30, 1.35, 1.34, 1.32, 1.39, 1.36, 1.39, 1.37, 1.42,
        1.42, 1.39, 1.45, 1.44]
c_y3 = [0.01, 0.11, 0.05, 0.11, 0.03, 0.11, 0.04, 0.14, 0.12, 0.11,
        0.17, 0.10, 0.22, 0.15, 0.22, 0.13, 0.21, 0.26, 0.18, 0.25,
        0.21, 0.31, 0.25, 0.31, 0.23, 0.31, 0.24, 0.34, 0.32, 0.31,
        0.37, 0.30, 0.42, 0.35, 0.42, 0.33, 0.41, 0.46, 0.37, 0.44,
        0.40, 0.50, 0.44, 0.50, 0.42, 0.50, 0.43, 0.53, 0.51, 0.50,
        0.56, 0.49, 0.61, 0.54, 0.61, 0.52, 0.60, 0.65, 0.57, 0.64,
        0.60, 0.70, 0.64, 0.70, 0.62, 0.70, 0.63, 0.73, 0.71, 0.70,
        0.76, 0.69, 0.81, 0.74, 0.81, 0.72, 0.80, 0.85, 0.76, 0.83,
        0.79, 0.89, 0.83, 0.89, 0.81, 0.89, 0.82, 0.92, 0.90, 0.89,
        0.95, 0.88, 1.00, 0.93, 1.00, 0.91, 0.99, 1.04, 0.96, 1.03,
        0.99, 1.09, 1.03, 1.09, 1.01, 1.09, 1.02, 1.12, 1.10, 1.09,
        1.15, 1.08, 1.20, 1.13, 1.20, 1.11, 1.19, 1.24, 1.15, 1.22,
        1.18, 1.28, 1.22, 1.28, 1.20, 1.28, 1.21, 1.31, 1.29, 1.28,
        1.34, 1.27, 1.39, 1.32, 1.39, 1.30, 1.38, 1.43, 1.35, 1.42,
        1.38, 1.48, 1.42, 1.48]
c_y4 = [0.07, 0.01, 0.13, 0.05, 0.08, 0.02, 0.14, 0.08, 0.17, 0.14,
        0.12, 0.19, 0.11, 0.18, 0.24, 0.16, 0.22, 0.15, 0.27, 0.22,
        0.27, 0.21, 0.33, 0.25, 0.28, 0.22, 0.34, 0.28, 0.37, 0.34,
        0.32, 0.39, 0.31, 0.38, 0.44, 0.36, 0.42, 0.35, 0.46, 0.41,
        0.46, 0.40, 0.52, 0.44, 0.47, 0.41, 0.53, 0.47, 0.56, 0.53,
        0.51, 0.58, 0.50, 0.57, 0.63, 0.55, 0.61, 0.54, 0.66, 0.61,
        0.66, 0.60, 0.72, 0.64, 0.67, 0.61, 0.73, 0.67, 0.76, 0.73,
        0.71, 0.78, 0.70, 0.77, 0.83, 0.75, 0.81, 0.74, 0.85, 0.80,
        0.85, 0.79, 0.91, 0.83, 0.86, 0.80, 0.92, 0.86, 0.95, 0.92,
        0.90, 0.97, 0.89, 0.96, 1.02, 0.94, 1.00, 0.93, 1.05, 1.00,
        1.05, 0.99, 1.11, 1.03, 1.06, 1.00, 1.12, 1.06, 1.15, 1.12,
        1.10, 1.17, 1.09, 1.16, 1.22, 1.14, 1.20, 1.13, 1.24, 1.19,
        1.24, 1.18, 1.30, 1.22, 1.25, 1.19, 1.31, 1.25, 1.34, 1.31,
        1.29, 1.36, 1.28, 1.35, 1.41, 1.33, 1.39, 1.32, 1.44, 1.39,
        1.44, 1.38, 1.50, 1.42]
c_y5 = [0.08, 0.04, 0.07, 0.05, 0.11, 0.09, 0.07, 0.13, 0.11, 0.14,
        0.14, 0.17, 0.15, 0.14, 0.19, 0.22, 0.18, 0.21, 0.24, 0.19,
        0.28, 0.24, 0.27, 0.25, 0.31, 0.29, 0.27, 0.33, 0.31, 0.34,
        0.34, 0.37, 0.35, 0.34, 0.39, 0.42, 0.38, 0.41, 0.43, 0.38,
        0.47, 0.43, 0.46, 0.44, 0.50, 0.48, 0.46, 0.52, 0.50, 0.53,
        0.53, 0.56, 0.54, 0.53, 0.58, 0.61, 0.57, 0.60, 0.63, 0.58,
        0.67, 0.63, 0.66, 0.64, 0.70, 0.68, 0.66, 0.72, 0.70, 0.73,
        0.73, 0.76, 0.74, 0.73, 0.78, 0.81, 0.77, 0.80, 0.82, 0.77,
        0.86, 0.82, 0.85, 0.83, 0.89, 0.87, 0.85, 0.91, 0.89, 0.92,
        0.92, 0.95, 0.93, 0.92, 0.97, 1.00, 0.96, 0.99, 1.02, 0.97,
        1.06, 1.02, 1.05, 1.03, 1.09, 1.07, 1.05, 1.11, 1.09, 1.12,
        1.12, 1.15, 1.13, 1.12, 1.17, 1.20, 1.16, 1.19, 1.21, 1.16,
        1.25, 1.21, 1.24, 1.22, 1.28, 1.26, 1.24, 1.30, 1.28, 1.31,
        1.31, 1.34, 1.32, 1.31, 1.36, 1.39, 1.35, 1.38, 1.41, 1.36,
        1.45, 1.41, 1.44, 1.41]
c_y6 = [0.13, 0.01, 0.12, 0.00, 0.15, 0.03, 0.15, 0.03, 0.20, 0.08,
        0.21, 0.08, 0.21, 0.09, 0.26, 0.14, 0.26, 0.15, 0.26, 0.14,
        0.33, 0.21, 0.32, 0.20, 0.35, 0.23, 0.35, 0.23, 0.40, 0.28,
        0.41, 0.28, 0.41, 0.29, 0.46, 0.34, 0.46, 0.35, 0.45, 0.33,
        0.52, 0.40, 0.51, 0.39, 0.54, 0.42, 0.54, 0.42, 0.59, 0.47,
        0.60, 0.47, 0.60, 0.48, 0.65, 0.53, 0.65, 0.54, 0.65, 0.53,
        0.72, 0.60, 0.71, 0.59, 0.74, 0.62, 0.74, 0.62, 0.79, 0.67,
        0.80, 0.67, 0.80, 0.68, 0.85, 0.73, 0.85, 0.74, 0.84, 0.72,
        0.91, 0.79, 0.90, 0.78, 0.93, 0.81, 0.93, 0.81, 0.98, 0.86,
        0.99, 0.86, 0.99, 0.87, 1.04, 0.92, 1.04, 0.93, 1.04, 0.92,
        1.11, 0.99, 1.10, 0.98, 1.13, 1.01, 1.13, 1.01, 1.18, 1.06,
        1.19, 1.06, 1.19, 1.07, 1.24, 1.12, 1.24, 1.13, 1.23, 1.11,
        1.30, 1.18, 1.29, 1.17, 1.32, 1.20, 1.32, 1.20, 1.37, 1.25,
        1.38, 1.25, 1.38, 1.26, 1.43, 1.31, 1.43, 1.32, 1.44, 1.31,
        1.50, 1.38, 1.48, 1.35]
c_y7 = [-0.04, 0.16, 0.01, 0.14, -0.02, 0.17, 0.04, 0.20, 0.03, 0.19,
        0.22, 0.05, 0.22, 0.10, 0.28, 0.10, 0.25, 0.10, 0.31, 0.17,
        0.16, 0.36, 0.21, 0.34, 0.18, 0.37, 0.24, 0.40, 0.23, 0.39,
        0.42, 0.25, 0.42, 0.30, 0.48, 0.30, 0.45, 0.30, 0.50, 0.36,
        0.35, 0.55, 0.40, 0.53, 0.37, 0.56, 0.43, 0.59, 0.42, 0.58,
        0.61, 0.44, 0.61, 0.49, 0.67, 0.49, 0.64, 0.49, 0.70, 0.56,
        0.55, 0.75, 0.60, 0.73, 0.57, 0.76, 0.63, 0.79, 0.62, 0.78,
        0.81, 0.64, 0.81, 0.69, 0.87, 0.69, 0.84, 0.69, 0.89, 0.75,
        0.74, 0.94, 0.79, 0.92, 0.76, 0.95, 0.82, 0.98, 0.81, 0.97,
        1.00, 0.83, 1.00, 0.88, 1.06, 0.88, 1.03, 0.88, 1.09, 0.95,
        0.94, 1.14, 0.99, 1.12, 0.96, 1.15, 1.02, 1.18, 1.01, 1.17,
        1.20, 1.03, 1.20, 1.08, 1.26, 1.08, 1.23, 1.08, 1.28, 1.14,
        1.13, 1.33, 1.18, 1.31, 1.15, 1.34, 1.21, 1.37, 1.20, 1.36,
        1.39, 1.22, 1.39, 1.27, 1.45, 1.27, 1.42, 1.27, 1.48, 1.34,
        1.33, 1.53, 1.38, 1.51]
c_y8 = [0.10, -0.01, 0.14, 0.02, 0.13, 0.01, 0.17, 0.07, 0.18, 0.06,
        0.09, 0.23, 0.08, 0.22, 0.14, 0.28, 0.13, 0.27, 0.17, 0.30,
        0.30, 0.19, 0.34, 0.22, 0.33, 0.21, 0.37, 0.27, 0.38, 0.26,
        0.29, 0.43, 0.28, 0.42, 0.34, 0.48, 0.33, 0.47, 0.36, 0.49,
        0.49, 0.38, 0.53, 0.41, 0.52, 0.40, 0.56, 0.46, 0.57, 0.45,
        0.48, 0.62, 0.47, 0.61, 0.53, 0.67, 0.52, 0.66, 0.56, 0.69,
        0.69, 0.58, 0.73, 0.61, 0.72, 0.60, 0.76, 0.66, 0.77, 0.65,
        0.68, 0.82, 0.67, 0.81, 0.73, 0.87, 0.72, 0.86, 0.75, 0.88,
        0.88, 0.77, 0.92, 0.80, 0.91, 0.79, 0.95, 0.85, 0.96, 0.84,
        0.87, 1.01, 0.86, 1.00, 0.92, 1.06, 0.91, 1.05, 0.95, 1.08,
        1.08, 0.97, 1.12, 1.00, 1.11, 0.99, 1.15, 1.05, 1.16, 1.04,
        1.07, 1.21, 1.06, 1.20, 1.12, 1.26, 1.11, 1.25, 1.14, 1.27,
        1.27, 1.16, 1.31, 1.19, 1.30, 1.18, 1.34, 1.24, 1.35, 1.23,
        1.26, 1.40, 1.25, 1.39, 1.31, 1.45, 1.30, 1.44, 1.34, 1.47,
        1.47, 1.36, 1.52, 1.39]
c_extra = [(0.00, 0.11), (0.00, 0.08), (0.00, 0.05), (0.00, 0.02), (0.00, -0.01),
           (0.01, -0.03), (0.01, 0.09), (0.00, -0.04), (0.01, 0.00), (0.00, -0.12),
           (0.00, 0.03),
           (1.46, 1.52), (1.47, 1.43), (1.48, 1.50), (1.49, 1.40), (1.50, 1.47),
           (1.51, 1.55), (1.52, 1.45), (1.53, 1.51), (1.54, 1.58), (1.55, 1.48),
           (1.56, 1.54), (1.57, 1.61), (1.58, 1.52), (1.59, 1.57), (1.60, 1.50),
           (1.61, 1.62), (1.62, 1.56), (1.63, 1.60), (1.64, 1.66), (1.65, 1.58),
           (1.66, 1.63), (1.67, 1.55), (1.68, 1.68), (1.69, 1.61), (1.70, 1.66),
           (1.71, 1.72), (1.72, 1.64), (1.73, 1.69), (1.75, 1.67), (1.76, 1.63),
           (1.77, 1.73), (1.79, 1.70), (1.81, 1.77), (1.83, 1.75), (1.85, 1.76),
           (1.86, 1.74), (1.87, 1.84), (1.89, 1.84), (1.91, 1.86), (1.94, 1.96),
           (1.81, 1.86), (1.65, 1.69), (1.62, 1.73), (1.61, 1.76), (1.69, 1.85),
           (1.69, 1.50), (1.46, 1.60), (1.53, 1.64), (1.47, 1.30), (1.36, 1.18),
           (1.32, 1.48), (1.42, 1.34), (1.44, 1.57), (1.57, 1.44), (1.73, 1.80),
           (1.78, 1.78), (1.88, 1.78),
           (1.45, 1.56), (1.47, 1.35), (1.49, 1.58), (1.50, 1.38), (1.52, 1.60),
           (1.54, 1.42), (1.55, 1.62), (1.57, 1.46), (1.58, 1.65), (1.60, 1.48),
           (1.62, 1.66), (1.63, 1.52), (1.66, 1.70), (1.67, 1.58), (1.70, 1.60),
           (1.72, 1.75), (1.74, 1.66), (1.78, 1.72), (1.40, 1.52), (1.38, 1.26),
           (1.35, 1.48), (1.33, 1.21), (1.28, 1.41), (1.26, 1.14), (1.20, 1.33),
           (1.16, 1.05),
           (0.12, 0.29), (0.19, 0.09), (0.31, 0.50), (0.36, 0.50), (0.32, 0.15),
           (0.38, 0.24), (0.45, 0.32), (0.55, 0.40), (0.59, 0.80), (0.52, 0.69),
           (0.76, 0.93), (0.80, 0.96), (0.90, 1.08), (0.97, 0.84), (1.11, 0.93),
           (1.11, 0.91), (1.22, 1.05), (1.11, 1.26), (0.26, 0.38), (0.65, 0.56),
           (0.70, 0.82), (1.02, 1.13), (1.30, 1.22), (0.08, 0.19), (0.15, 0.05),
           (0.42, 0.55), (0.85, 0.74)]
c_fit = (0.975, 0.026)

# (d) Test Set (MLPNN)
d_x = [0.06, 0.07, 0.08, 0.09, 0.10, 0.11, 0.12, 0.13, 0.14, 0.15,
       0.16, 0.17, 0.18, 0.19, 0.20, 0.21, 0.22, 0.23, 0.24, 0.25,
       0.26, 0.27, 0.28, 0.29, 0.30, 0.31, 0.32, 0.33, 0.34, 0.35,
       0.36, 0.37, 0.38, 0.39, 0.40, 0.41, 0.42, 0.43, 0.44, 0.45,
       0.46, 0.47, 0.48, 0.49, 0.50, 0.51, 0.52, 0.53, 0.54, 0.55,
       0.56, 0.57, 0.58, 0.59, 0.60, 0.61, 0.62, 0.63, 0.64, 0.65,
       0.66, 0.67, 0.68, 0.69, 0.70, 0.71, 0.72, 0.73, 0.74, 0.75,
       0.76, 0.77, 0.78, 0.79, 0.80, 0.81, 0.82, 0.83, 0.84, 0.85,
       0.86, 0.87, 0.88, 0.89, 0.90, 0.91, 0.92, 0.93, 0.94, 0.95,
       0.96, 0.97, 0.98, 0.99, 1.00, 1.01, 1.02, 1.03, 1.04, 1.05,
       1.06, 1.07, 1.08, 1.09, 1.10, 1.11, 1.12, 1.13, 1.14, 1.15,
       1.16, 1.17, 1.18, 1.19, 1.20, 1.21, 1.22, 1.23, 1.24, 1.25,
       1.26, 1.27, 1.28, 1.29, 1.30, 1.31, 1.32]
d_y1 = [0.02, 0.13, 0.09, 0.03, 0.13, 0.19, 0.10, 0.06, 0.18, 0.15,
        0.21, 0.14, 0.20, 0.11, 0.27, 0.20, 0.17, 0.26, 0.30, 0.23,
        0.22, 0.33, 0.29, 0.23, 0.33, 0.39, 0.30, 0.26, 0.38, 0.35,
        0.41, 0.34, 0.40, 0.31, 0.47, 0.40, 0.37, 0.46, 0.50, 0.43,
        0.42, 0.53, 0.49, 0.43, 0.52, 0.58, 0.49, 0.45, 0.57, 0.54,
        0.60, 0.53, 0.59, 0.50, 0.66, 0.59, 0.56, 0.65, 0.69, 0.62,
        0.61, 0.72, 0.68, 0.62, 0.72, 0.78, 0.69, 0.65, 0.77, 0.74,
        0.80, 0.73, 0.79, 0.70, 0.86, 0.79, 0.76, 0.85, 0.89, 0.82,
        0.81, 0.92, 0.88, 0.82, 0.92, 0.98, 0.89, 0.85, 0.97, 0.94,
        1.00, 0.93, 0.99, 0.90, 1.06, 0.98, 0.95, 1.04, 1.08, 1.01,
        1.00, 1.11, 1.07, 1.01, 1.11, 1.17, 1.08, 1.04, 1.16, 1.13,
        1.19, 1.12, 1.18, 1.09, 1.25, 1.18, 1.15, 1.24, 1.28, 1.21,
        1.20, 1.31, 1.27, 1.21, 1.31, 1.37, 1.28]
d_y2 = [0.04, 0.11, 0.03, 0.10, 0.16, 0.08, 0.14, 0.07, 0.19, 0.14,
        0.19, 0.13, 0.25, 0.17, 0.20, 0.14, 0.26, 0.20, 0.29, 0.26,
        0.24, 0.31, 0.23, 0.30, 0.36, 0.28, 0.34, 0.27, 0.39, 0.34,
        0.39, 0.33, 0.45, 0.37, 0.40, 0.34, 0.46, 0.40, 0.49, 0.46,
        0.44, 0.51, 0.43, 0.50, 0.55, 0.47, 0.53, 0.46, 0.58, 0.53,
        0.58, 0.52, 0.64, 0.56, 0.59, 0.53, 0.65, 0.59, 0.68, 0.65,
        0.63, 0.70, 0.62, 0.69, 0.75, 0.67, 0.73, 0.66, 0.78, 0.73,
        0.78, 0.72, 0.84, 0.76, 0.79, 0.73, 0.85, 0.79, 0.88, 0.85,
        0.83, 0.90, 0.82, 0.89, 0.95, 0.87, 0.93, 0.86, 0.98, 0.93,
        0.98, 0.92, 1.04, 0.96, 0.99, 0.92, 1.04, 0.98, 1.07, 1.04,
        1.02, 1.09, 1.01, 1.08, 1.14, 1.06, 1.12, 1.05, 1.17, 1.12,
        1.17, 1.11, 1.23, 1.15, 1.18, 1.12, 1.24, 1.18, 1.27, 1.24,
        1.22, 1.29, 1.21, 1.28, 1.34, 1.26, 1.32]
d_y3 = [0.15, 0.03, 0.14, 0.02, 0.17, 0.05, 0.17, 0.05, 0.22, 0.10,
        0.23, 0.10, 0.23, 0.11, 0.28, 0.16, 0.28, 0.17, 0.28, 0.16,
        0.35, 0.23, 0.34, 0.22, 0.37, 0.25, 0.37, 0.25, 0.42, 0.30,
        0.43, 0.30, 0.43, 0.31, 0.48, 0.36, 0.48, 0.37, 0.48, 0.36,
        0.55, 0.43, 0.54, 0.42, 0.56, 0.44, 0.56, 0.44, 0.61, 0.49,
        0.62, 0.49, 0.62, 0.50, 0.67, 0.55, 0.67, 0.56, 0.67, 0.55,
        0.74, 0.62, 0.73, 0.61, 0.76, 0.64, 0.76, 0.64, 0.81, 0.69,
        0.82, 0.69, 0.82, 0.70, 0.87, 0.75, 0.87, 0.76, 0.87, 0.75,
        0.94, 0.82, 0.93, 0.81, 0.96, 0.84, 0.96, 0.84, 1.01, 0.89,
        1.02, 0.89, 1.02, 0.90, 1.07, 0.94, 1.06, 0.95, 1.06, 0.94,
        1.13, 1.01, 1.12, 1.00, 1.15, 1.03, 1.15, 1.03, 1.20, 1.08,
        1.21, 1.08, 1.21, 1.09, 1.26, 1.14, 1.26, 1.15, 1.26, 1.14,
        1.33, 1.21, 1.32, 1.20, 1.35, 1.23, 1.35]
d_y4 = [0.12, 0.01, 0.16, 0.04, 0.15, 0.03, 0.19, 0.09, 0.20, 0.08,
        0.11, 0.25, 0.10, 0.24, 0.16, 0.30, 0.15, 0.29, 0.19, 0.32,
        0.32, 0.21, 0.36, 0.24, 0.35, 0.23, 0.39, 0.29, 0.40, 0.28,
        0.31, 0.45, 0.30, 0.44, 0.36, 0.50, 0.35, 0.49, 0.39, 0.52,
        0.52, 0.41, 0.56, 0.44, 0.54, 0.42, 0.58, 0.48, 0.59, 0.47,
        0.50, 0.64, 0.49, 0.63, 0.55, 0.69, 0.54, 0.68, 0.58, 0.71,
        0.71, 0.60, 0.75, 0.63, 0.74, 0.62, 0.78, 0.68, 0.79, 0.67,
        0.70, 0.84, 0.69, 0.83, 0.75, 0.89, 0.74, 0.88, 0.78, 0.91,
        0.91, 0.80, 0.95, 0.83, 0.94, 0.82, 0.98, 0.88, 0.99, 0.87,
        0.90, 1.04, 0.89, 1.03, 0.95, 1.08, 0.93, 1.07, 0.97, 1.10,
        1.10, 0.99, 1.14, 1.02, 1.13, 1.01, 1.17, 1.07, 1.18, 1.06,
        1.09, 1.23, 1.08, 1.22, 1.14, 1.28, 1.13, 1.27, 1.17, 1.30,
        1.30, 1.19, 1.34, 1.22, 1.33, 1.21, 1.37]
d_tight_x = [0.20, 0.21, 0.22, 0.23, 0.24, 0.25, 0.26, 0.27, 0.28, 0.29,
             0.30, 0.31, 0.32, 0.33, 0.34, 0.35, 0.36, 0.37, 0.38, 0.39,
             0.40, 0.41, 0.42, 0.43, 0.44, 0.45, 0.46, 0.47, 0.48, 0.49,
             0.50, 0.51, 0.52, 0.53, 0.54, 0.55, 0.56, 0.57, 0.58, 0.59,
             0.60, 0.61, 0.62, 0.63, 0.64, 0.65, 0.66, 0.67, 0.68, 0.69,
             0.70, 0.71, 0.72, 0.73, 0.74, 0.75, 0.76, 0.77, 0.78, 0.79,
             0.80, 0.81, 0.82, 0.83, 0.84, 0.85, 0.86, 0.87, 0.88, 0.89,
             0.90, 0.91, 0.92, 0.93, 0.94, 0.95, 0.96, 0.97, 0.98, 0.99,
             1.00, 1.01, 1.02, 1.03, 1.04, 1.05, 1.06, 1.07, 1.08, 1.09,
             1.10, 1.11, 1.12, 1.13, 1.14, 1.15]
d_tight_y = [0.21, 0.19, 0.24, 0.23, 0.21, 0.28, 0.25, 0.28, 0.26, 0.31,
             0.29, 0.33, 0.32, 0.31, 0.37, 0.32, 0.37, 0.39, 0.37, 0.39,
             0.41, 0.39, 0.44, 0.43, 0.41, 0.48, 0.45, 0.48, 0.46, 0.51,
             0.48, 0.52, 0.51, 0.50, 0.56, 0.51, 0.56, 0.58, 0.56, 0.58,
             0.60, 0.58, 0.63, 0.62, 0.60, 0.67, 0.64, 0.67, 0.65, 0.70,
             0.68, 0.72, 0.71, 0.70, 0.76, 0.71, 0.76, 0.78, 0.76, 0.78,
             0.80, 0.78, 0.83, 0.82, 0.80, 0.87, 0.84, 0.87, 0.85, 0.90,
             0.88, 0.92, 0.91, 0.90, 0.96, 0.91, 0.96, 0.98, 0.96, 0.98,
             1.00, 0.97, 1.02, 1.01, 0.99, 1.06, 1.03, 1.06, 1.04, 1.09,
             1.07, 1.11, 1.10, 1.09, 1.15, 1.10]
d_extra = [(0.00, 0.26), (0.00, 0.01), (0.05, -0.01), (0.34, 0.01), (0.09, 0.19),
           (0.15, 0.12), (0.22, 0.13), (0.28, 0.15), (0.33, 0.16), (0.35, 0.17),
           (0.24, 0.39), (0.34, 0.48), (0.43, 0.31), (0.38, 0.23), (0.01, 0.02),
           (0.02, 0.04), (0.03, 0.03), (0.04, 0.06), (0.05, 0.05), (0.10, 0.21),
           (0.12, 0.16), (0.11, 0.08), (0.13, 0.22), (0.17, 0.25), (0.19, 0.17),
           (0.07, 0.09), (0.08, 0.12), (0.30, 0.40), (0.39, 0.27),
           (0.55, 0.81), (0.70, 0.48), (0.69, 0.55), (0.80, 0.57), (0.76, 0.60),
           (0.73, 0.95), (0.73, 0.97), (0.74, 0.93), (0.87, 0.67), (0.91, 0.76),
           (1.03, 0.81), (1.08, 0.92), (0.98, 1.14), (0.90, 1.06), (1.10, 1.30),
           (1.15, 1.34), (1.27, 1.19), (1.36, 1.20), (1.35, 1.18), (0.62, 0.73),
           (0.84, 0.95), (0.58, 0.50),
           (1.41, 1.56), (1.45, 1.51), (1.50, 1.30), (1.46, 1.26), (1.52, 1.49),
           (1.57, 1.47), (1.57, 1.41), (1.54, 1.39), (1.61, 1.64), (1.57, 1.58),
           (1.56, 1.56), (1.67, 1.63), (1.67, 1.59), (1.66, 1.51), (1.71, 1.55),
           (1.46, 1.40), (1.33, 1.35), (1.34, 1.27), (1.35, 1.40), (1.36, 1.32),
           (1.37, 1.36), (1.38, 1.30), (1.39, 1.42), (1.40, 1.34), (1.41, 1.38),
           (1.42, 1.31), (1.43, 1.45), (1.44, 1.36), (1.47, 1.43), (1.48, 1.38),
           (1.49, 1.46), (1.33, 1.40), (1.31, 1.24), (1.29, 1.33), (1.38, 1.44),
           (1.40, 1.29), (1.36, 1.43), (1.30, 1.27), (1.53, 1.44), (1.60, 1.56)]
d_fit = (0.979, 0.011)

# ---------------- drawing ----------------
W, H = 968, 1086
fig = plt.figure(figsize=(W / 100, H / 100), dpi=100)
dark = '#262626'


def panel(left, top, size, lims, title, groups, fit, fit_color, leg_xy, label_fs):
    ax = fig.add_axes([left / W, 1 - (top + size) / H, size / W, size / H])

    # data points: open black circles, drawn over the lines
    lab = 'Data'
    for gx, gy in groups:
        ax.plot(gx, gy, 'o', ms=7, mfc='none', mec='k', mew=0.75,
                label=lab, zorder=4)
        lab = '_nolegend_'

    # fit line and Y = T line across the axes
    xs = np.array(lims)
    ax.plot(xs, fit[0] * xs + fit[1], color=fit_color, lw=2.4, label='Fit', zorder=2)
    ax.plot(xs, xs, color='k', ls=':', lw=0.8, label='Y = T', zorder=3)

    ax.set_xlim(lims)
    ax.set_ylim(lims)
    ax.set_xticks(x_ticks)
    ax.set_xticklabels(x_tick_labels)
    ax.set_yticks(y_ticks)
    ax.set_yticklabels(y_tick_labels)
    ax.tick_params(direction='in', length=4, width=0.6, top=True, right=True,
                   labelsize=10.5, colors=dark)
    ax.tick_params(axis='x', pad=8)
    ax.tick_params(axis='y', pad=5)
    for s in ax.spines.values():
        s.set_color(dark)
        s.set_linewidth(0.7)
        s.set_zorder(5)

    ax.set_title(title, fontsize=20, fontweight='bold', pad=8)
    ax.set_xlabel('DFT Relative Energy (eV)', fontsize=label_fs, color=dark, labelpad=6)
    ax.set_ylabel('Predicted Relative Energy (eV)', fontsize=label_fs, color=dark, labelpad=5)

    leg = ax.legend(loc='upper left', bbox_to_anchor=(leg_xy[0] / W, 1 - leg_xy[1] / H),
                    bbox_transform=fig.transFigure, borderaxespad=0, fontsize=9.5,
                    handlelength=3.8, handletextpad=0.4, labelspacing=0.4,
                    borderpad=0.45, fancybox=False, framealpha=1, edgecolor=dark,
                    numpoints=1)
    leg.get_frame().set_linewidth(0.6)
    leg.set_zorder(10)
    return ax


a_ex_x, a_ex_y = zip(*a_extra)
b_ex_x, b_ex_y = zip(*b_extra)
c_ex_x, c_ex_y = zip(*c_extra)
d_ex_x, d_ex_y = zip(*d_extra)

panel(72.7, 47.3, 380.3, (-0.107, 1.94), 'Training Set (SLNN)',
      [(a_x, a_y1), (a_x, a_y2), (a_x, a_y3), (a_x, a_y4), (a_x, a_y5),
       (a_x, a_y6), (a_x, a_y7), (a_x, a_y8), (a_ex_x, a_ex_y)],
      a_fit, '#0000ff', (85, 60), 18)
panel(603, 57, 363, (-0.017, 1.854), 'Test Set (SLNN)',
      [(b_x, b_y1), (b_x, b_y2), (b_x, b_y3), (b_x, b_y4),
       (b_tight_x, b_tight_y), (b_ex_x, b_ex_y)],
      b_fit, '#00e600', (614.7, 68.3), 17.5)
panel(81, 604, 360.7, (-0.118, 1.968), 'Training Set (MLPNN)',
      [(c_x, c_y1), (c_x, c_y2), (c_x, c_y3), (c_x, c_y4), (c_x, c_y5),
       (c_x, c_y6), (c_x, c_y7), (c_x, c_y8), (c_ex_x, c_ex_y)],
      c_fit, '#0000ff', (92.3, 617.3), 17)
panel(608.3, 605.7, 368.3, (-0.008, 1.93), 'Test Set (MLPNN)',
      [(d_x, d_y1), (d_x, d_y2), (d_x, d_y3), (d_x, d_y4),
       (d_tight_x, d_tight_y), (d_ex_x, d_ex_y)],
      d_fit, '#00e600', (619, 617.7), 17.4)

# sub-figure letters
for (px, py, letter) in [(233, 526, 'a'), (769, 527, 'b'), (234, 1071, 'c'), (769, 1064, 'd')]:
    fig.text(px / W, 1 - py / H, r'($\mathbf{' + letter + '}$)', fontsize=17,
             family='Liberation Serif', ha='center', va='center')

fig.savefig('out.png', dpi=100, facecolor='white')
